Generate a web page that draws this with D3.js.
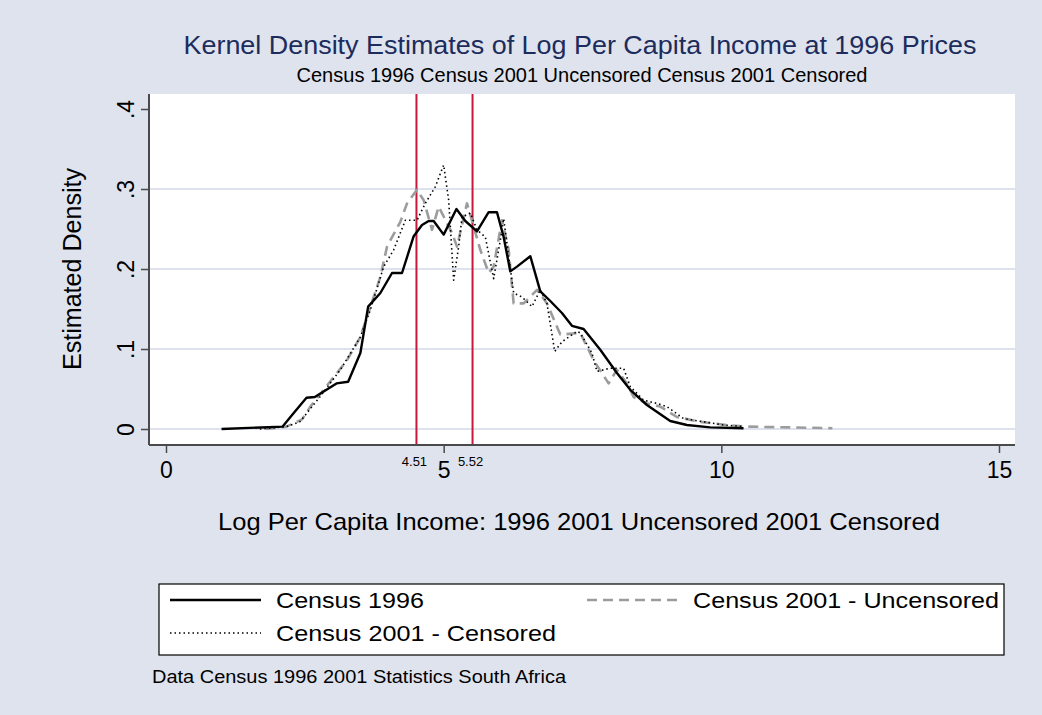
<!DOCTYPE html>
<html><head><meta charset="utf-8">
<script src="https://cdn.jsdelivr.net/npm/d3@7"></script>
<style>body{margin:0;background:#dfe3ee;} text{font-family:"Liberation Sans",Arial,sans-serif;}</style>
</head><body>
<svg id="chart" width="1042" height="715"></svg>
<script>
// ---- data ----
const census1996X = [1.0,2.1,2.3,2.53,2.68,3.07,3.28,3.5,3.64,3.86,4.07,4.25,4.46,4.61,4.73,4.82,5.0,5.23,5.39,5.6,5.81,5.96,6.08,6.2,6.32,6.56,6.74,6.92,7.13,7.31,7.52,7.82,8.12,8.36,8.66,9.08,9.38,9.8,10.4];
const census1996Y = [0,0.003,0.02,0.039,0.040,0.057,0.059,0.095,0.153,0.17,0.195,0.195,0.241,0.255,0.26,0.26,0.243,0.275,0.26,0.247,0.271,0.271,0.24,0.197,0.203,0.216,0.172,0.16,0.145,0.129,0.125,0.099,0.07,0.049,0.030,0.010,0.005,0.002,0.001];
const uncensoredX = [1.8,2.17,2.45,2.6,3.26,3.5,3.86,3.98,4.22,4.34,4.52,4.64,4.79,4.91,5.15,5.24,5.42,5.54,5.66,5.81,5.9,6.05,6.17,6.26,6.44,6.68,6.86,7.1,7.46,7.7,7.97,8.12,8.3,8.42,8.66,8.9,9.2,9.62,10.1,10.46,12.0];
const uncensoredY = [0,0.003,0.012,0.028,0.086,0.115,0.19,0.228,0.259,0.282,0.299,0.286,0.249,0.278,0.245,0.228,0.282,0.253,0.224,0.195,0.203,0.261,0.224,0.157,0.157,0.174,0.157,0.118,0.12,0.086,0.057,0.074,0.057,0.040,0.032,0.028,0.015,0.009,0.005,0.003,0.001];
const censoredX = [1.69,2.17,2.41,2.77,3.14,3.5,3.68,3.92,4.1,4.31,4.52,4.67,4.85,5.0,5.09,5.18,5.27,5.33,5.48,5.6,5.75,5.9,6.02,6.08,6.26,6.41,6.59,6.74,6.86,7.0,7.13,7.4,7.46,7.67,7.76,8.0,8.24,8.36,8.6,8.84,9.02,9.32,9.68,10.04,10.4];
const censoredY = [0,0.003,0.009,0.04,0.074,0.115,0.149,0.203,0.224,0.261,0.261,0.282,0.303,0.33,0.286,0.186,0.228,0.265,0.27,0.249,0.24,0.188,0.236,0.263,0.17,0.165,0.153,0.174,0.157,0.097,0.109,0.122,0.12,0.095,0.072,0.076,0.076,0.053,0.036,0.032,0.028,0.013,0.009,0.005,0.003];
const xTicks = [0,5,10,15];
const yTicks = [0,0.1,0.2,0.3,0.4];
const yTickLabels = ["0",".1",".2",".3",".4"];
const refLines = [4.51,5.52];
const refLabels = ["4.51","5.52"];
const seriesNames = ["Census 1996","Census 2001 - Uncensored","Census 2001 - Censored"];
const titleText = "Kernel Density Estimates of Log Per Capita Income at 1996 Prices";
const subtitleText = "Census 1996 Census 2001 Uncensored Census 2001 Censored";
const xTitle = "Log Per Capita Income: 1996  2001 Uncensored 2001 Censored";
const yTitle = "Estimated Density";
const noteText = "Data Census 1996 2001 Statistics South Africa";

// ---- layout ----
const W = 1042, H = 715;
const pL = 149, pR = 1015, pT = 94, pB = 445;
const svg = d3.select("#chart");
svg.append("rect").attr("width",W).attr("height",H).attr("fill","#dfe3ee");

const x = d3.scaleLinear().domain([0,15]).range([166,999]);
const y = d3.scaleLinear().domain([0,0.4]).range([429,109]);

svg.append("rect").attr("x",pL).attr("y",pT).attr("width",pR-pL).attr("height",pB-pT).attr("fill","#ffffff");

// gridlines
svg.append("g").selectAll("line").data(yTicks.slice(0,4)).join("line")
  .attr("x1",pL).attr("x2",pR).attr("y1",d=>y(d)).attr("y2",d=>y(d))
  .attr("stroke","#dde2ee").attr("stroke-width",2);

// reference lines
svg.append("g").selectAll("line").data(refLines).join("line")
  .attr("x1",d=>x(d)).attr("x2",d=>x(d)).attr("y1",pT).attr("y2",pB)
  .attr("stroke","#c8173a").attr("stroke-width",2);

// series
const line = d3.line().x(d=>x(d[0])).y(d=>y(d[1]));
const zip = (a,b)=>a.map((v,i)=>[v,b[i]]);
const styles = [
  {stroke:"#000",width:2.4,dash:null},
  {stroke:"#9c9c9c",width:2.6,dash:"10,6"},
  {stroke:"#000",width:1.6,dash:"1.5,3"}
];
const data = [zip(census1996X,census1996Y), zip(uncensoredX,uncensoredY), zip(censoredX,censoredY)];
[1,0,2].forEach(i=>{
  svg.append("path").datum(data[i]).attr("d",line).attr("fill","none")
    .attr("stroke",styles[i].stroke).attr("stroke-width",styles[i].width)
    .attr("stroke-dasharray",styles[i].dash).attr("stroke-linejoin","round");
});

// axes
const axCol = "#4a4a4a";
const yAxis = svg.append("g").attr("transform",`translate(${pL},0)`)
  .call(d3.axisLeft(y).tickValues(yTicks).tickSize(8).tickFormat((d,i)=>yTickLabels[i]));
yAxis.select(".domain").attr("d",`M0,${pT}V${pB}`);
const xAxis = svg.append("g").attr("transform",`translate(0,${pB})`)
  .call(d3.axisBottom(x).tickValues(xTicks).tickSize(8).tickFormat(d3.format("d")));
xAxis.select(".domain").attr("d",`M${pL},0H${pR}`);
[xAxis,yAxis].forEach(g=>{
  g.select(".domain").attr("stroke",axCol).attr("stroke-width",2);
  g.selectAll(".tick line").attr("stroke",axCol).attr("stroke-width",1.5);
  g.selectAll("text").attr("fill","#000").attr("font-size",23).attr("font-family","Liberation Sans, Arial, sans-serif");
});
xAxis.selectAll(".tick text").attr("y",33).attr("dy",null);
yAxis.selectAll(".tick text").attr("x",null).attr("dy",null)
  .attr("text-anchor","middle").attr("y",0)
  .attr("transform","translate(-15,0) rotate(-90)");

// reference labels
svg.append("g").selectAll("text").data(refLines).join("text")
  .attr("x",d=>x(d)-2).attr("y",466).attr("text-anchor","middle")
  .attr("font-size",13).attr("fill","#000").text((d,i)=>refLabels[i]);

// titles
svg.append("text").attr("x",580).attr("y",54).attr("text-anchor","middle")
  .attr("font-size",26.5).attr("fill","#1c2c5c").attr("textLength",793).attr("lengthAdjust","spacingAndGlyphs").text(titleText);
svg.append("text").attr("x",582).attr("y",82).attr("text-anchor","middle")
  .attr("font-size",20).attr("fill","#000").attr("textLength",571).attr("lengthAdjust","spacingAndGlyphs").text(subtitleText);
svg.append("text").attr("x",579).attr("y",530).attr("text-anchor","middle")
  .attr("font-size",24).attr("fill","#000").attr("textLength",722).attr("lengthAdjust","spacingAndGlyphs").text(xTitle);
svg.append("text").attr("transform","translate(81,269) rotate(-90)").attr("text-anchor","middle")
  .attr("font-size",25).attr("fill","#000").attr("textLength",202).attr("lengthAdjust","spacingAndGlyphs").text(yTitle);

// legend
const lg = svg.append("g");
lg.append("rect").attr("x",159).attr("y",584).attr("width",845).attr("height",71)
  .attr("fill","#fff").attr("stroke","#000").attr("stroke-width",1.2);
const legPos = [{lx:170,y:600,tx:276,len:148},{lx:587,y:600,tx:693,len:306},{lx:170,y:633,tx:276,len:280}];
seriesNames.forEach((n,i)=>{
  const p = legPos[i];
  lg.append("line").attr("x1",p.lx).attr("x2",p.lx+91).attr("y1",p.y).attr("y2",p.y)
    .attr("stroke",styles[i].stroke).attr("stroke-width",styles[i].width).attr("stroke-dasharray",styles[i].dash);
  lg.append("text").attr("x",p.tx).attr("y",p.y+8).attr("font-size",22).attr("fill","#000")
    .attr("textLength",p.len).attr("lengthAdjust","spacingAndGlyphs").text(n);
});

svg.append("text").attr("x",152).attr("y",683).attr("font-size",17.5).attr("fill","#000")
  .attr("textLength",414).attr("lengthAdjust","spacingAndGlyphs").text(noteText);
</script>
</body></html>
